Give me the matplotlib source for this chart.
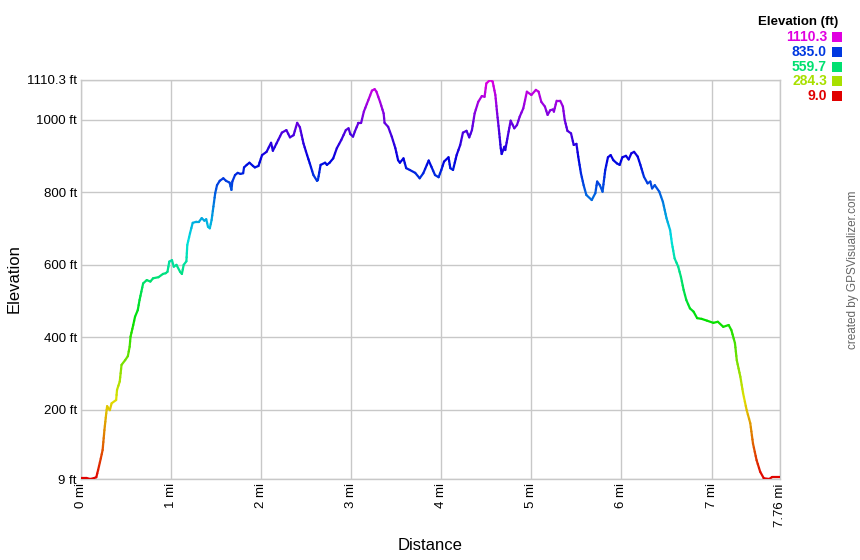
import numpy as np
import matplotlib
matplotlib.use("Agg")
import matplotlib.pyplot as plt
from matplotlib.collections import LineCollection
from matplotlib.colors import hsv_to_rgb
from matplotlib.patches import Rectangle

plt.rcParams['font.family'] = ['Liberation Sans', 'DejaVu Sans']

# ---- data (distance in miles, elevation in feet) ----
distance_mi = [
    0.00, 0.06, 0.10, 0.14, 0.17, 0.19, 0.22, 0.24, 0.26, 0.28, 0.29, 0.32, 0.34, 0.39, 0.40, 0.43,
    0.45, 0.49, 0.52, 0.54, 0.55, 0.58, 0.60, 0.63, 0.65, 0.67, 0.69, 0.73, 0.77, 0.80, 0.86, 0.91,
    0.94, 0.96, 0.98, 1.01, 1.03, 1.06, 1.10, 1.12, 1.14, 1.17, 1.18, 1.21, 1.24, 1.28, 1.31, 1.34,
    1.37, 1.39, 1.41, 1.43, 1.45, 1.47, 1.49, 1.51, 1.54, 1.58, 1.61, 1.65, 1.67, 1.68, 1.71, 1.74,
    1.77, 1.80, 1.81, 1.84, 1.87, 1.91, 1.93, 1.97, 2.01, 2.06, 2.11, 2.13, 2.19, 2.23, 2.28, 2.32,
    2.36, 2.40, 2.43, 2.47, 2.51, 2.54, 2.58, 2.62, 2.63, 2.66, 2.71, 2.73, 2.76, 2.80, 2.84, 2.89,
    2.94, 2.97, 2.99, 3.02, 3.04, 3.08, 3.11, 3.14, 3.19, 3.23, 3.26, 3.28, 3.32, 3.36, 3.37, 3.41,
    3.45, 3.49, 3.52, 3.54, 3.58, 3.61, 3.65, 3.71, 3.76, 3.80, 3.86, 3.89, 3.93, 3.97, 4.00, 4.03,
    4.08, 4.10, 4.13, 4.17, 4.21, 4.24, 4.28, 4.31, 4.34, 4.37, 4.41, 4.45, 4.48, 4.50, 4.54, 4.57,
    4.60, 4.62, 4.64, 4.66, 4.67, 4.70, 4.71, 4.74, 4.77, 4.81, 4.84, 4.87, 4.91, 4.95, 5.00, 5.05,
    5.08, 5.11, 5.15, 5.18, 5.21, 5.24, 5.25, 5.28, 5.32, 5.35, 5.37, 5.40, 5.44, 5.47, 5.50, 5.52,
    5.55, 5.58, 5.61, 5.67, 5.71, 5.73, 5.76, 5.79, 5.82, 5.85, 5.88, 5.91, 5.95, 5.98, 6.01, 6.05,
    6.08, 6.11, 6.14, 6.18, 6.21, 6.25, 6.29, 6.32, 6.34, 6.37, 6.42, 6.46, 6.50, 6.54, 6.56, 6.59,
    6.63, 6.66, 6.69, 6.72, 6.76, 6.80, 6.84, 6.89, 6.95, 7.02, 7.07, 7.13, 7.19, 7.22, 7.26, 7.28,
    7.32, 7.35, 7.39, 7.43, 7.46, 7.50, 7.54, 7.58, 7.64, 7.67, 7.76,
]
elevation_ft = [
    12, 12, 9, 11, 14, 34, 66, 89, 144, 190, 210, 199, 218, 227, 255, 278,
    324, 337, 348, 374, 402, 434, 457, 475, 503, 526, 549, 558, 554, 563, 566, 575,
    577, 581, 609, 613, 595, 600, 581, 575, 600, 610, 655, 687, 716, 719, 719, 729,
    722, 726, 705, 701, 724, 761, 798, 820, 832, 839, 832, 827, 807, 830, 848, 854,
    851, 853, 869, 876, 882, 873, 869, 873, 903, 912, 937, 915, 945, 965, 972, 952,
    958, 992, 980, 935, 903, 880, 848, 832, 834, 876, 882, 876, 882, 894, 922, 945,
    972, 977, 961, 954, 968, 992, 992, 1023, 1055, 1081, 1085, 1078, 1050, 1018, 992, 981,
    954, 922, 889, 882, 894, 867, 862, 854, 839, 853, 888, 871, 848, 842, 862, 885,
    897, 867, 862, 903, 931, 965, 970, 952, 972, 1018, 1050, 1066, 1064, 1101, 1110, 1106,
    1069, 1018, 972, 922, 906, 926, 917, 958, 998, 977, 986, 1009, 1032, 1078, 1069, 1083,
    1078, 1050, 1037, 1014, 1027, 1029, 1023, 1053, 1053, 1037, 1000, 970, 963, 931, 934, 899,
    853, 820, 793, 779, 798, 830, 820, 802, 862, 897, 903, 889, 880, 876, 897, 901,
    891, 908, 912, 899, 876, 843, 825, 830, 811, 820, 802, 774, 729, 696, 660, 618,
    595, 567, 531, 503, 480, 471, 453, 451, 446, 440, 443, 429, 434, 420, 384, 337,
    291, 246, 199, 163, 107, 61, 29, 11, 9, 14, 14,
]

y_ticks = [9, 200, 400, 600, 800, 1000, 1110.3]
y_tick_labels = ["9 ft", "200 ft", "400 ft", "600 ft", "800 ft", "1000 ft", "1110.3 ft"]
x_ticks = [0, 1, 2, 3, 4, 5, 6, 7, 7.76]
x_tick_labels = ["0 mi", "1 mi", "2 mi", "3 mi", "4 mi", "5 mi", "6 mi", "7 mi", "7.76 mi"]
legend_values = [1110.3, 835.0, 559.7, 284.3, 9.0]

ELEV_MIN, ELEV_MAX = 9.0, 1110.3


def elev_color(e):
    h = (np.clip(e, ELEV_MIN, ELEV_MAX) - ELEV_MIN) / (ELEV_MAX - ELEV_MIN) * 300.0 / 360.0
    return hsv_to_rgb([h, 1.0, 0.88])


fig = plt.figure(figsize=(8.6, 5.6), dpi=100)
ax = fig.add_axes([81 / 860, 1 - 479 / 560, (780 - 81) / 860, (479 - 80) / 560])

x = np.array(distance_mi)
y = np.array(elevation_ft, dtype=float)

# colour each drawn segment by elevation; split each straight segment into
# short pieces along itself so the colour gradient is smooth (geometry unchanged)
segs, cols = [], []
for x0, y0, x1, y1 in zip(x[:-1], y[:-1], x[1:], y[1:]):
    n = max(1, int(abs(y1 - y0) // 10))
    t = np.linspace(0, 1, n + 1)
    xs = x0 + (x1 - x0) * t
    ys = y0 + (y1 - y0) * t
    for k in range(n):
        segs.append([(xs[k], ys[k]), (xs[k + 1], ys[k + 1])])
        cols.append(elev_color((ys[k] + ys[k + 1]) / 2))

lc = LineCollection(segs, colors=cols, linewidths=1.6, capstyle='round', joinstyle='round', zorder=3)
ax.add_collection(lc)

ax.set_xlim(0, 7.76)
ax.set_ylim(ELEV_MIN, ELEV_MAX)
ax.set_xticks(x_ticks)
ax.set_xticklabels(x_tick_labels, rotation=90, fontsize=9.5)
ax.set_yticks(y_ticks)
ax.set_yticklabels(y_tick_labels, fontsize=9.5)
ax.tick_params(axis='both', length=0, pad=3, colors='black')
ax.grid(True, color='#c8c8c8', linewidth=1.0, zorder=0)
for s in ax.spines.values():
    s.set_color('#c8c8c8')
    s.set_linewidth(1.0)

fig.text(430 / 860, 1 - 545 / 560, "Distance", ha='center', va='center', fontsize=12)
fig.text(14 / 860, 1 - 279 / 560, "Elevation", ha='center', va='center', rotation=90, fontsize=12)

fig.text(853 / 860, 1 - 270 / 560, "created by GPSVisualizer.com", ha='center', va='center',
         rotation=90, fontsize=8.5, color='#666666')

fig.text(838 / 860, 1 - 22 / 560, "Elevation (ft)", ha='right', va='center', fontsize=9.5,
         fontweight='bold', color='black')
for i, v in enumerate(legend_values):
    yc = 37 + i * 14.8
    c = elev_color(v)
    fig.text(827 / 860, 1 - yc / 560, f"{v:.1f}", ha='right', va='center', fontsize=10,
             fontweight='bold', color=c)
    fig.add_artist(Rectangle((832 / 860, 1 - (yc + 5) / 560), 10 / 860, 10 / 560,
                             transform=fig.transFigure, facecolor=c, edgecolor='none'))

fig.savefig("out.png", dpi=100)
